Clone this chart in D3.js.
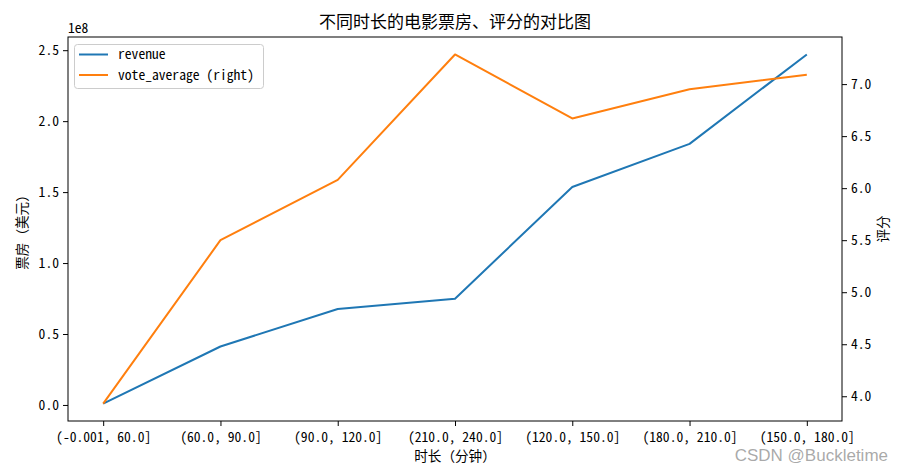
<!DOCTYPE html>
<html><head><meta charset="utf-8">
<script src="https://cdn.jsdelivr.net/npm/d3@7/dist/d3.min.js"></script>
<style>
body{margin:0;background:#fff;}
text{font-family:"Noto Sans Mono CJK SC","Liberation Mono","Noto Sans CJK SC",monospace;}
.cjk{font-family:"Noto Sans CJK SC",sans-serif;}
</style></head>
<body><svg id="c" width="902" height="471"></svg>
<script>
const categories = ["(-0.001, 60.0]","(60.0, 90.0]","(90.0, 120.0]","(210.0, 240.0]","(120.0, 150.0]","(180.0, 210.0]","(150.0, 180.0]"];
const revenue = [1.0e6, 4.12e7, 6.76e7, 7.49e7, 1.536e8, 1.84e8, 2.47e8];
const voteAverage = [3.93, 5.50, 6.08, 7.285, 6.67, 6.95, 7.09];
const leftTicks = [0, 0.5e8, 1.0e8, 1.5e8, 2.0e8, 2.5e8];
const rightTicks = [4.0, 4.5, 5.0, 5.5, 6.0, 6.5, 7.0];
const seriesNames = ["revenue", "vote_average (right)"];
const colors = ["#1f77b4", "#ff7f0e"];

const svg = d3.select("#c");
const L = 68, R = 842, T = 37, B = 421;

function padDomain(arr){
  const mn = d3.min(arr), mx = d3.max(arr), s = mx - mn;
  return [mn - 0.05*s, mx + 0.05*s];
}
const x = d3.scalePoint().domain(categories).range([L, R]).padding(0.3);
const yL = d3.scaleLinear().domain(padDomain(revenue)).range([B, T]);
const yR = d3.scaleLinear().domain(padDomain(voteAverage)).range([B, T]);

const fs = 13.6;
// axes
const gx = svg.append("g").attr("transform", `translate(0,${B})`)
  .call(d3.axisBottom(x).tickSize(5).tickPadding(4));
const gl = svg.append("g").attr("transform", `translate(${L},0)`)
  .call(d3.axisLeft(yL).tickValues(leftTicks).tickFormat(d => (d/1e8).toFixed(1)).tickSize(5).tickPadding(4));
const gr = svg.append("g").attr("transform", `translate(${R},0)`)
  .call(d3.axisRight(yR).tickValues(rightTicks).tickFormat(d => d.toFixed(1)).tickSize(5).tickPadding(4));
[gx, gl, gr].forEach(g => {
  g.select(".domain").remove();
  g.selectAll("line").attr("stroke", "#000").attr("stroke-width", 1);
  g.selectAll("text").attr("fill", "#000").style("font-size", fs + "px");
});
gx.selectAll("text").attr("dy", "0.85em");

// lines
const lineL = d3.line().x((d, i) => x(categories[i])).y(d => yL(d));
const lineR = d3.line().x((d, i) => x(categories[i])).y(d => yR(d));
svg.append("path").datum(revenue).attr("d", lineL).attr("fill", "none")
  .attr("stroke", colors[0]).attr("stroke-width", 2).attr("stroke-linejoin", "round");
svg.append("path").datum(voteAverage).attr("d", lineR).attr("fill", "none")
  .attr("stroke", colors[1]).attr("stroke-width", 2).attr("stroke-linejoin", "round");

// frame
svg.append("rect").attr("x", L).attr("y", T).attr("width", R - L).attr("height", B - T)
  .attr("fill", "none").attr("stroke", "#000").attr("stroke-width", 1);

// offset text
svg.append("text").attr("x", L).attr("y", 33).style("font-size", fs + "px").text("1e8");

// title and labels
svg.append("text").attr("class", "cjk").attr("x", (L + R) / 2).attr("y", 28).attr("text-anchor", "middle")
  .style("font-size", "17px").text("不同时长的电影票房、评分的对比图");
svg.append("text").attr("class", "cjk").attr("x", (L + R) / 2).attr("y", 461).attr("text-anchor", "middle")
  .style("font-size", fs + "px").text("时长（分钟）");
svg.append("text").attr("class", "cjk").attr("transform", `translate(27,${(T + B) / 2}) rotate(-90)`)
  .attr("text-anchor", "middle").style("font-size", fs + "px").text("票房（美元）");
svg.append("text").attr("class", "cjk").attr("transform", `translate(888,${(T + B) / 2}) rotate(-90)`)
  .attr("text-anchor", "middle").style("font-size", fs + "px").text("评分");

// legend
const lg = svg.append("g");
lg.append("rect").attr("x", 74.5).attr("y", 44.5).attr("width", 189).attr("height", 44).attr("rx", 3)
  .attr("fill", "#fff").attr("fill-opacity", 0.8).attr("stroke", "#cccccc").attr("stroke-width", 1);
seriesNames.forEach((n, i) => {
  const yy = 54.5 + i * 20.5;
  lg.append("line").attr("x1", 79).attr("x2", 108).attr("y1", yy).attr("y2", yy)
    .attr("stroke", colors[i]).attr("stroke-width", 2);
  lg.append("text").attr("x", 118).attr("y", yy + 4.5).style("font-size", fs + "px").text(n);
});

// watermark
svg.append("text").attr("x", 888).attr("y", 461).attr("text-anchor", "end")
  .style("font-family", "'Liberation Sans', Arial, sans-serif").style("font-size", "17px")
  .attr("fill", "#9a9a9a").attr("fill-opacity", 0.85).text("CSDN @Buckletime");
</script></body></html>
